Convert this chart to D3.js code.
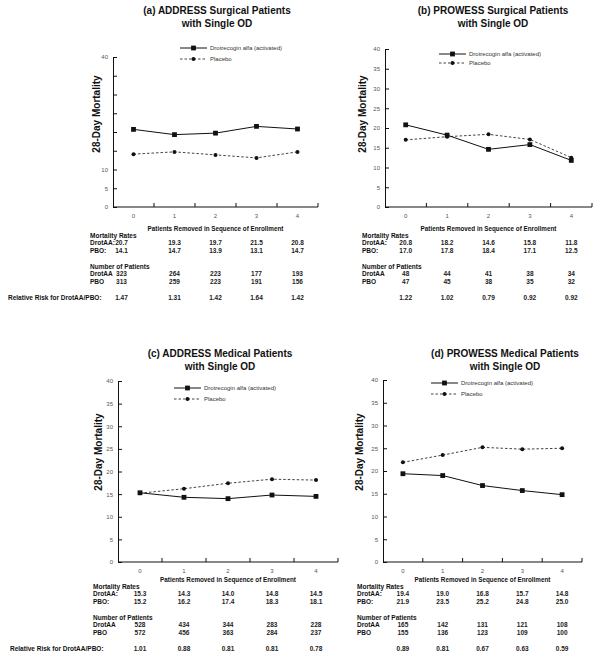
<!DOCTYPE html>
<html>
<head>
<meta charset="utf-8">
<script src="https://cdn.jsdelivr.net/npm/d3@7/dist/d3.min.js"></script>
<style>
  body { margin: 0; background: #fff; }
  text { font-family: "Liberation Sans", Arial, Helvetica, sans-serif; }
</style>
</head>
<body>
<script>
// DATA
var categories = [0, 1, 2, 3, 4];
var yTickValues = [0, 5, 10, 15, 20, 25, 30, 35, 40];
var yTickLabelsA = ["0", "5", "10", "", "", "", "", "", "40"];
var yTickLabels = ["0", "5", "10", "15", "20", "25", "30", "35", "40"];
var seriesNames = ["Drotrecogin alfa (activated)", "Placebo"];

var titlesA = ["(a) ADDRESS Surgical Patients", "with Single OD"];
var titlesB = ["(b) PROWESS Surgical Patients", "with Single OD"];
var titlesC = ["(c) ADDRESS Medical Patients", "with Single OD"];
var titlesD = ["(d) PROWESS Medical Patients", "with Single OD"];

var drotA = [20.7, 19.3, 19.7, 21.5, 20.8];
var pboA = [14.1, 14.7, 13.9, 13.1, 14.7];
var nDrotA = [323, 264, 223, 177, 193];
var nPboA = [313, 259, 223, 191, 156];
var rrA = ["1.47", "1.31", "1.42", "1.64", "1.42"];

var drotB = [20.8, 18.2, 14.6, 15.8, 11.8];
var pboB = [17.0, 17.8, 18.4, 17.1, 12.5];
var nDrotB = [48, 44, 41, 38, 34];
var nPboB = [47, 45, 38, 35, 32];
var rrB = ["1.22", "1.02", "0.79", "0.92", "0.92"];

var drotC = [15.3, 14.3, 14.0, 14.8, 14.5];
var pboC = [15.2, 16.2, 17.4, 18.3, 18.1];
var nDrotC = [528, 434, 344, 283, 228];
var nPboC = [572, 456, 363, 284, 237];
var rrC = ["1.01", "0.88", "0.81", "0.81", "0.78"];

var drotD = [19.4, 19.0, 16.8, 15.7, 14.8];
var pboD = [21.9, 23.5, 25.2, 24.8, 25.0];
var nDrotD = [165, 142, 131, 121, 108];
var nPboD = [155, 136, 123, 109, 100];
var rrD = ["0.89", "0.81", "0.67", "0.63", "0.59"];

var svg = d3.select('body').append('svg')
  .attr('width', 600)
  .attr('height', 654);

var ink = "#111";

function drawPanel(p) {
  var g = svg.append('g');
  var x = d3.scaleBand().domain(categories).range([p.x0, p.x1]);
  var y = d3.scaleLinear().domain([0, 40]).range([p.yBot, p.yTop]);
  var cx = function(c) { return x(c) + x.bandwidth() / 2; };

  //TITLE
  p.titles.forEach(function(t, i) {
    g.append('text')
      .attr('x', p.titleX).attr('y', p.titleY + i * 13)
      .attr('text-anchor', 'middle')
      .style('font-size', '10px').style('font-weight', 'bold')
      .attr('fill', ink)
      .text(t);
  });

  //Y AXIS
  var yAxis = d3.axisLeft(y)
    .tickValues(yTickValues)
    .tickSizeInner(-4)
    .tickSizeOuter(0)
    .tickPadding(5)
    .tickFormat(function(d, i) { return p.yLabels[i]; });
  var ya = g.append('g').attr('transform', 'translate(' + p.x0 + ',0)').call(yAxis);
  ya.selectAll('path, line').attr('stroke', ink).attr('stroke-width', 1);
  ya.selectAll('text').attr('fill', '#555').style('font-size', '6px');

  g.append('text')
    .attr('transform', 'translate(' + p.ylabX + ',' + p.ylabY + ') rotate(-90)')
    .attr('text-anchor', 'middle')
    .style('font-size', '10px').style('font-weight', 'bold')
    .attr('fill', ink)
    .text('28-Day Mortality');

  //X AXIS
  g.append('line')
    .attr('x1', p.x0).attr('x2', p.x1)
    .attr('y1', p.yBot).attr('y2', p.yBot)
    .attr('stroke', ink).attr('stroke-width', 1);
  g.selectAll('.xtick').data(categories).enter().append('line')
    .attr('x1', function(c) { return x(c) + x.bandwidth(); })
    .attr('x2', function(c) { return x(c) + x.bandwidth(); })
    .attr('y1', p.yBot).attr('y2', p.yBot - 4)
    .attr('stroke', ink).attr('stroke-width', 1);
  g.selectAll('.xlab').data(categories).enter().append('text')
    .attr('x', cx).attr('y', p.yBot + 11)
    .attr('text-anchor', 'middle')
    .style('font-size', '6px').attr('fill', '#555')
    .text(function(c) { return c; });
  g.append('text')
    .attr('x', (p.x0 + p.x1) / 2).attr('y', p.prY)
    .attr('text-anchor', 'middle')
    .style('font-size', '6.3px').style('font-weight', 'bold')
    .attr('fill', ink)
    .text('Patients Removed in Sequence of Enrollment');

  //LINES
  var line = d3.line()
    .x(function(d, i) { return cx(categories[i]); })
    .y(function(d) { return y(d); });
  g.append('path').attr('d', line(p.drot))
    .attr('fill', 'none').attr('stroke', ink).attr('stroke-width', 1);
  g.append('path').attr('d', line(p.pbo))
    .attr('fill', 'none').attr('stroke', ink).attr('stroke-width', 0.8)
    .attr('stroke-dasharray', '2.5,2');
  g.selectAll('.sq').data(p.drot).enter().append('rect')
    .attr('x', function(d, i) { return cx(categories[i]) - 2.4; })
    .attr('y', function(d) { return y(d) - 2.4; })
    .attr('width', 4.8).attr('height', 4.8)
    .attr('fill', ink);
  g.selectAll('.dot').data(p.pbo).enter().append('circle')
    .attr('cx', function(d, i) { return cx(categories[i]); })
    .attr('cy', function(d) { return y(d); })
    .attr('r', 2)
    .attr('fill', ink);

  //LEGEND
  var lw = 27;
  g.append('line')
    .attr('x1', p.legX).attr('x2', p.legX + lw)
    .attr('y1', p.legY).attr('y2', p.legY)
    .attr('stroke', ink).attr('stroke-width', 1);
  g.append('rect')
    .attr('x', p.legX + lw / 2 - 2.4).attr('y', p.legY - 2.4)
    .attr('width', 4.8).attr('height', 4.8).attr('fill', ink);
  g.append('line')
    .attr('x1', p.legX).attr('x2', p.legX + lw)
    .attr('y1', p.legY + p.legGap).attr('y2', p.legY + p.legGap)
    .attr('stroke', ink).attr('stroke-width', 0.8)
    .attr('stroke-dasharray', '2.5,2');
  g.append('circle')
    .attr('cx', p.legX + lw / 2).attr('cy', p.legY + p.legGap)
    .attr('r', 2).attr('fill', ink);
  seriesNames.forEach(function(s, i) {
    g.append('text')
      .attr('x', p.legX + lw + 3).attr('y', p.legY + i * p.legGap + 2)
      .style('font-size', '6px').attr('fill', '#333')
      .text(s);
  });

  //TABLE
  var colX = function(i) { return cx(categories[i]) + (i === 0 ? p.firstShift : 0); };
  var rows = [
    { label: 'Mortality Rates', dy: 6.5, vals: null },
    { label: 'DrotAA:', dy: 14, vals: p.drot.map(function(v) { return v.toFixed(1); }) },
    { label: 'PBO:', dy: 22, vals: p.pbo.map(function(v) { return v.toFixed(1); }) },
    { label: 'Number of Patients', dy: 38, vals: null },
    { label: 'DrotAA', dy: 45, vals: p.nDrot },
    { label: 'PBO', dy: 53, vals: p.nPbo }
  ];
  rows.forEach(function(r) {
    g.append('text')
      .attr('x', p.tableX).attr('y', p.prY + r.dy)
      .style('font-size', '6.5px').style('font-weight', 'bold')
      .attr('fill', ink)
      .text(r.label);
    if (r.vals) {
      g.selectAll(null).data(r.vals).enter().append('text')
        .attr('x', function(d, i) { return colX(i); })
        .attr('y', p.prY + r.dy)
        .attr('text-anchor', 'middle')
        .style('font-size', '6.5px').style('font-weight', 'bold')
        .attr('fill', '#222')
        .text(function(d) { return d; });
    }
  });
  if (p.rrLabel) {
    g.append('text')
      .attr('x', p.rrLabelX).attr('y', p.prY + 69)
      .style('font-size', '6.5px').style('font-weight', 'bold')
      .attr('fill', ink)
      .text('Relative Risk for DrotAA/PBO:');
  }
  g.selectAll(null).data(p.rr).enter().append('text')
    .attr('x', function(d, i) { return colX(i); })
    .attr('y', p.prY + 69)
    .attr('text-anchor', 'middle')
    .style('font-size', '6.5px').style('font-weight', 'bold')
    .attr('fill', '#222')
    .text(function(d) { return d; });
}

drawPanel({ titles: titlesA, yLabels: yTickLabelsA, drot: drotA, pbo: pboA, nDrot: nDrotA, nPbo: nPboA, rr: rrA,
  x0: 113, x1: 318, yTop: 57, yBot: 207, titleX: 217, titleY: 14, ylabX: 100, ylabY: 114,
  legX: 180, legY: 48, legGap: 11, tableX: 90, prY: 231, firstShift: -12, rrLabel: true, rrLabelX: 8 });

drawPanel({ titles: titlesB, yLabels: yTickLabels, drot: drotB, pbo: pboB, nDrot: nDrotB, nPbo: nPboB, rr: rrB,
  x0: 385, x1: 592, yTop: 49, yBot: 207, titleX: 493, titleY: 14, ylabX: 366, ylabY: 114,
  legX: 439, legY: 54, legGap: 9, tableX: 362, prY: 231, firstShift: 0, rrLabel: false });

drawPanel({ titles: titlesC, yLabels: yTickLabels, drot: drotC, pbo: pboC, nDrot: nDrotC, nPbo: nPboC, rr: rrC,
  x0: 118, x1: 338, yTop: 381, yBot: 562, titleX: 220, titleY: 357, ylabX: 102, ylabY: 452,
  legX: 174, legY: 388, legGap: 11, tableX: 93, prY: 582, firstShift: 0, rrLabel: true, rrLabelX: 10 });

drawPanel({ titles: titlesD, yLabels: yTickLabels, drot: drotD, pbo: pboD, nDrot: nDrotD, nPbo: nPboD, rr: rrD,
  x0: 383, x1: 582, yTop: 380, yBot: 562, titleX: 505, titleY: 357, ylabX: 363, ylabY: 452,
  legX: 431, legY: 383, legGap: 11, tableX: 357, prY: 582, firstShift: 0, rrLabel: false });
</script>
</body>
</html>
